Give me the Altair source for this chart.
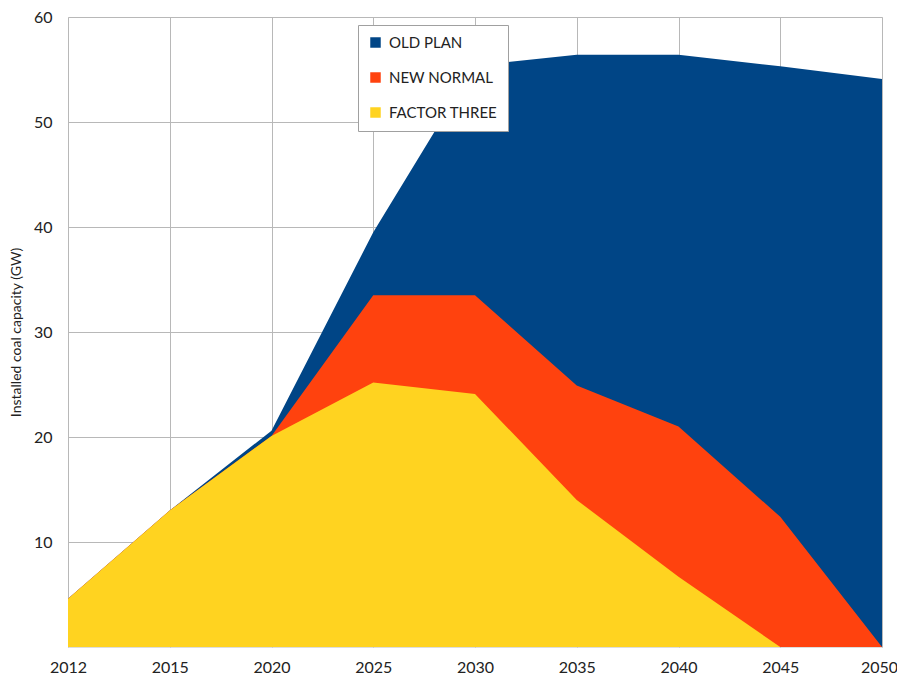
import altair as alt
import pandas as pd

years = ["2012", "2015", "2020", "2025", "2030", "2035", "2040", "2045", "2050"]
series = ["OLD PLAN", "NEW NORMAL", "FACTOR THREE"]
old_plan = [4.6, 13.0, 20.6, 39.5, 55.4, 56.4, 56.4, 55.3, 54.1]
new_normal = [4.6, 13.0, 20.1, 33.5, 33.5, 24.9, 21.0, 12.4, 0.0]
factor_three = [4.6, 13.0, 20.1, 25.2, 24.1, 14.0, 6.7, 0.0, 0.0]
colors = ["#004586", "#ff420e", "#ffd320"]
y_ticks = [10, 20, 30, 40, 50, 60]

rows = []
for name, vals in zip(series, [old_plan, new_normal, factor_three]):
    for yr, v in zip(years, vals):
        rows.append({"year": yr, "series": name, "value": v})
df = pd.DataFrame(rows)

color = alt.Color(
    "series:N",
    scale=alt.Scale(domain=series, range=colors),
    legend=alt.Legend(
        title=None,
        orient="none",
        legendX=290,
        legendY=8,
        symbolType="square",
        symbolSize=110,
        symbolStrokeWidth=0,
        labelFontSize=15,
        labelFont="Lato",
        labelColor="#222222",
        labelOffset=6,
        rowPadding=19,
        padding=10,
        fillColor="white",
        strokeColor="#a0a0a0",
    ),
)

x = alt.X(
    "year:O",
    sort=years,
    scale=alt.Scale(type="point", padding=0),
    axis=alt.Axis(
        title=None,
        labelAngle=0,
        labelFontSize=16,
        labelFont="Lato",
        labelColor="#222222",
        labelPadding=12,
        labelOffset=alt.expr("datum.label == '2050' ? -3 : 0"),
        ticks=False,
        domain=False,
        grid=True,
        gridColor="#b8b8b8",
    ),
)
y = alt.Y(
    "value:Q",
    stack=None,
    scale=alt.Scale(domain=[0, 60], nice=False, zero=True),
    axis=alt.Axis(
        title="Installed coal capacity (GW)",
        titleFontSize=14,
        titleFont="Lato",
        titleFontWeight="normal",
        titleColor="#222222",
        titlePadding=10,
        values=y_ticks,
        labelFontSize=16,
        labelFont="Lato",
        labelColor="#222222",
        labelPadding=16,
        ticks=False,
        domain=False,
        grid=True,
        gridColor="#b8b8b8",
    ),
)

layers = []
for name in series:
    layers.append(
        alt.Chart(df)
        .transform_filter(alt.datum.series == name)
        .mark_area(opacity=1, interpolate="linear")
        .encode(x=x, y=y, color=color)
    )

chart = (
    alt.layer(*layers)
    .properties(
        width=814,
        height=630,
        autosize=alt.AutoSizeParams(type="none"),
        padding={"left": 60, "top": 9, "right": 15, "bottom": 29},
    )
    .configure_view(stroke="#b3b3b3", strokeWidth=1)
    .configure(background="white")
)

chart.save("out.html", embed_options={"renderer": "svg", "actions": False})
